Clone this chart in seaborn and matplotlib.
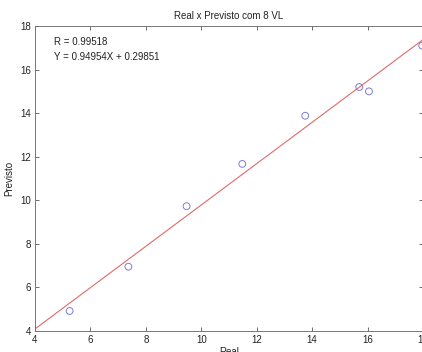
import numpy as np
import pandas as pd
import seaborn as sns
import matplotlib
matplotlib.use('Agg')
import matplotlib.pyplot as plt

# values
real = [5.25, 7.37, 9.47, 11.48, 13.75, 15.70, 16.05, 17.97]
previsto = [4.92, 6.95, 9.73, 11.67, 13.88, 15.20, 15.00, 17.10]
r_text = 'R = 0.99518'
eq_text = 'Y = 0.94954X + 0.29851'
x_ticks = [4, 6, 8, 10, 12, 14, 16, 18]
y_ticks = [4, 6, 8, 10, 12, 14, 16, 18]

df = pd.DataFrame({'Real': real, 'Previsto': previsto})

sns.set_style('white')
plt.rcParams['font.family'] = ['Liberation Sans', 'DejaVu Sans']
plt.rcParams['font.size'] = 7

fig = plt.figure(figsize=(4.22, 3.52), dpi=100)
# right spine falls just outside the picture, as in the cropped original
ax = fig.add_axes([35 / 422, 21 / 352, 388 / 422, 305 / 352])
ax.set_xlim(4, 18)
ax.set_ylim(4, 18)

sns.regplot(
        data=df,
        x='Real',
        y='Previsto',
        ci=None,
        truncate=False,
        ax=ax,
        scatter_kws=dict(s=24, facecolors='none', edgecolors='#5b5bd0', linewidths=0.7),
        line_kws=dict(color='#e06a6a', lw=0.8),
)

ax.set_xlim(4, 18)
ax.set_ylim(4, 18)
ax.set_xticks(x_ticks)
ax.set_yticks(y_ticks)
ax.tick_params(direction='in', length=3, width=0.6, colors='#555555',
               labelcolor='#222222', labelsize=7, top=True, right=True,
               bottom=True, left=True, pad=3)
for s in ax.spines.values():
    s.set_color('#777777')
    s.set_linewidth(0.7)

ax.set_title('Real x Previsto com 8 VL', fontsize=7, pad=5, color='#222222')
ax.set_xlabel('Real', fontsize=7, labelpad=1, color='#222222')
ax.set_ylabel('Previsto', fontsize=7, labelpad=4, color='#222222')

ax.text(4.69, 17.26, r_text, fontsize=7, va='center', color='#222222')
ax.text(4.69, 16.57, eq_text, fontsize=7, va='center', color='#222222')

fig.savefig('out.png', dpi=100)
